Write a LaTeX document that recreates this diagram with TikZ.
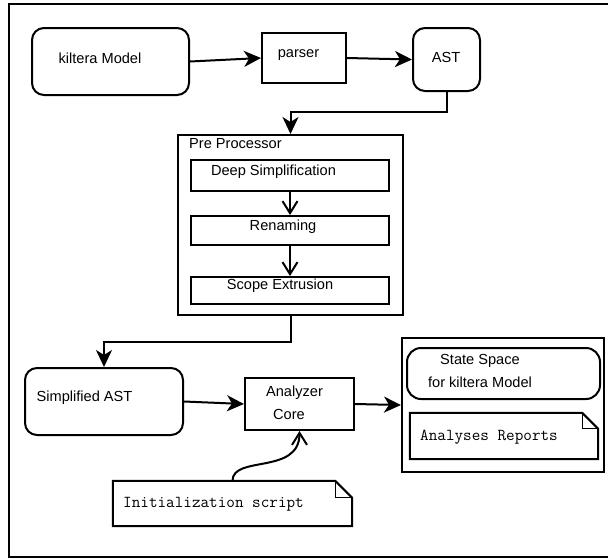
\documentclass[tikz,border=0pt]{standalone}
\usepackage{fontspec}
\setmainfont{Liberation Sans}
\usetikzlibrary{arrows.meta}

\tikzset{
  box/.style={draw, line width=2pt, rectangle, inner sep=0pt},
  rbox/.style={box, rounded corners=12pt},
  slot/.style={rectangle, inner sep=0pt},
  txt/.style={inner sep=0pt, font=\fontsize{14.6}{17}\selectfont},
  code/.style={inner sep=0pt, font=\ttfamily\fontsize{16.7}{19}\selectfont},
  flow/.style={line width=2pt, -{Stealth[length=17pt,width=16pt,inset=5pt]}},
  stageflow/.style={line width=2pt, -{Straight Barb[length=12pt,width=15pt]}},
  fold/.style={line width=1pt},
}

% outline of a note with a turned-down corner, around a named node
\newcommand{\notepath}[2]{%
  \draw[line width=2pt] (#1.north west) -- ([xshift=-#2]#1.north east)
    -- ([yshift=-#2]#1.north east) -- (#1.south east) -- (#1.south west) -- cycle;
  \draw[fold] ([xshift=-#2]#1.north east) -- ([xshift=-#2,yshift=-#2]#1.north east)
    -- ([yshift=-#2]#1.north east);
}

\begin{document}
\begin{tikzpicture}[x=1pt, y=-1pt]
  \useasboundingbox (0,0) rectangle (608,558);
  \clip (0,0) rectangle (608,558);

  % outer frame
  \draw[line width=2pt] (9,4) rectangle (616,557);

  % front end
  \node[rbox, minimum width=157pt, minimum height=67pt] (model) at (110.5,61.5) {};
  \node[txt] (modeltxt) at (100,58) {kiltera Model};
  \node[box, minimum width=84pt, minimum height=50pt] (parser) at (304,58) {};
  \node[txt] (parsertxt) at (298.5,55) {parser};
  \node[rbox, minimum width=67pt, minimum height=63pt] (ast) at (446.5,59.5) {};
  \node[txt] (asttxt) at (446,57) {AST};

  \draw[flow] (model.east) -- (parser.west);
  \draw[flow] (parser.east) -- (ast.west);

  % pre processor
  \node[box, minimum width=225pt, minimum height=180pt] (pre) at (290.5,225) {};
  \node[txt, anchor=west] (pretxt) at (189,144) {Pre Processor};
  \node[box, minimum width=198pt, minimum height=31pt] (deep) at (290,175.5) {};
  \node[txt] (deeptxt) at (273.5,172) {Deep Simplification};
  \node[box, minimum width=198pt, minimum height=29pt] (ren) at (290,230.5) {};
  \node[txt] (rentxt) at (283,227) {Renaming};
  \node[box, minimum width=198pt, minimum height=27pt] (scope) at (290,290.5) {};
  \node[txt] (scopetxt) at (280,286) {Scope Extrusion};

  \draw[stageflow] (deep.south) -- (ren.north);
  \draw[stageflow] (ren.south) -- (scope.north);

  \draw[flow] (ast.south) -- (ast.south |- 0,112) -| (pre.north);

  % analysis
  \node[rbox, minimum width=158pt, minimum height=67pt] (simp) at (104,401.5) {};
  \node[txt] (simptxt) at (84.5,398) {Simplified AST};
  \node[box, minimum width=109pt, minimum height=52pt] (core) at (299.5,404) {};
  \node[txt] (coretxt1) at (294.5,393) {Analyzer};
  \node[txt] (coretxt2) at (289,414) {Core};

  \draw[flow] (pre.south) -- (pre.south |- 0,342) -| (simp.north);
  \draw[flow] (simp.east) -- (core.west);

  % results
  \node[box, minimum width=202pt, minimum height=134pt] (result) at (503,405) {};
  \node[rbox, rounded corners=14pt, minimum width=193pt, minimum height=51pt] (space) at (503.5,373.5) {};
  \node[txt] (spacetxt1) at (480,361) {State Space};
  \node[txt] (spacetxt2) at (480,382) {for kiltera Model};
  \node[slot, minimum width=188pt, minimum height=46pt] (reports) at (504,436) {};
  \notepath{reports}{16pt}
  \node[code, anchor=west] (reportstxt) at (420,437) {Analyses Reports};

  \draw[flow] (core.east) -- (result.west);

  % initialization input
  \node[slot, minimum width=239pt, minimum height=45pt] (init) at (232.5,503.5) {};
  \notepath{init}{17pt}
  \node[code, anchor=west] (inittxt) at (123,504) {Initialization script};

  \draw[stageflow] (init.north) .. controls (232.5,455) and (299.5,475) .. (core.south);
\end{tikzpicture}
\end{document}
